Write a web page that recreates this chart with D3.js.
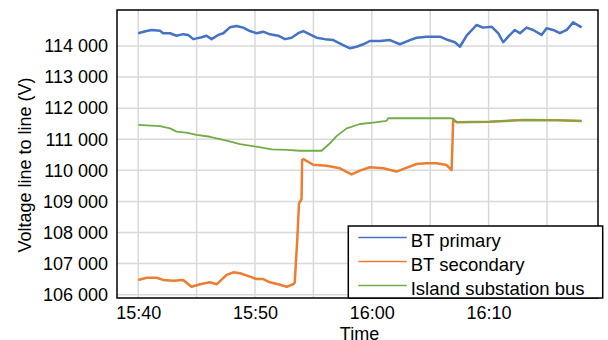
<!DOCTYPE html>
<html>
<head>
<meta charset="utf-8">
<script src="https://cdn.jsdelivr.net/npm/d3@7"></script>
<style>
  html, body { margin: 0; padding: 0; background: #fff; }
  svg { display: block; font-family: "Liberation Sans", Arial, sans-serif; }
</style>
</head>
<body>
<svg id="chart" width="608" height="340"></svg>
<script>
// ---- Data ----
const seriesNames = ["BT primary", "BT secondary", "Island substation bus"];
const seriesColors = ["#4472C4", "#ED7D31", "#70AD47"];

const primaryTimes = ["15:40:00","15:40:43","15:41:09","15:41:52","15:42:08","15:42:43","15:43:17","15:43:51","15:44:17","15:44:43","15:45:26","15:45:51","15:46:17","15:46:51","15:47:17","15:47:51","15:48:25","15:48:59","15:49:34","15:50:08","15:50:42","15:51:17","15:51:59","15:52:34","15:53:08","15:53:42","15:54:08","15:54:42","15:55:16","15:55:59","15:56:42","15:57:33","15:58:08","15:58:42","15:59:16","15:59:50","16:00:41","16:01:33","16:02:24","16:03:16","16:03:50","16:04:41","16:05:50","16:06:32","16:07:07","16:07:33","16:08:07","16:08:58","16:09:32","16:10:15","16:10:49","16:11:15","16:11:41","16:12:15","16:12:41","16:13:15","16:13:49","16:14:32","16:14:58","16:15:32","16:16:06","16:16:41","16:17:14","16:17:58"];
const primaryValues = [114410,114480,114515,114490,114410,114410,114330,114380,114355,114220,114280,114330,114220,114355,114410,114600,114645,114590,114480,114410,114460,114375,114330,114220,114265,114410,114480,114375,114265,114220,114190,114030,113925,113975,114055,114160,114160,114190,114055,114190,114265,114300,114300,114190,114120,113975,114330,114675,114590,114620,114410,114120,114300,114515,114410,114590,114515,114355,114570,114515,114410,114515,114760,114600];

const secondaryTimes = ["15:40:00","15:40:43","15:41:34","15:42:08","15:43:00","15:43:51","15:44:34","15:45:17","15:46:08","15:46:43","15:47:34","15:48:08","15:48:43","15:49:34","15:50:08","15:50:42","15:51:17","15:51:59","15:52:43","15:53:16","15:53:24","15:53:37","15:53:46","15:53:59","15:54:02","15:54:11","15:54:59","15:56:08","15:57:16","15:58:16","15:58:59","15:59:50","16:00:59","16:02:07","16:02:50","16:03:50","16:04:41","16:05:33","16:06:24","16:06:50","16:06:58","16:07:16","16:10:07","16:12:58","16:15:49","16:17:58"];
const secondaryValues = [106475,106545,106545,106475,106450,106475,106255,106335,106400,106335,106635,106720,106690,106580,106505,106505,106400,106335,106255,106335,106390,107760,108940,109070,110335,110355,110180,110150,110065,109870,109990,110100,110065,109960,110065,110205,110225,110225,110170,110010,111620,111545,111565,111620,111610,111590];

const islandTimes = ["15:40:00","15:41:52","15:42:43","15:43:17","15:44:08","15:45:00","15:46:08","15:47:34","15:48:43","15:50:08","15:51:25","15:52:43","15:53:51","15:55:42","15:56:25","15:56:59","15:57:51","15:58:59","16:00:07","16:01:16","16:01:24","16:06:41","16:06:58","16:07:16","16:10:07","16:12:58","16:15:49","16:17:58"];
const islandValues = [111460,111425,111350,111245,111210,111140,111080,110955,110845,110760,110675,110655,110630,110630,110870,111100,111350,111490,111535,111590,111675,111675,111665,111550,111570,111620,111615,111590];

const yTickValues = [106000,107000,108000,109000,110000,111000,112000,113000,114000];
const xTickLabels = ["15:40","15:50","16:00","16:10"];
const xGridTimes = ["15:40","15:45","15:50","15:55","16:00","16:05","16:10","16:15"];

// ---- Layout ----
const svg = d3.select("#chart");
const plot = { left: 117, top: 10, right: 598, bottom: 298 };
const parseT = d3.timeParse("%H:%M:%S");
const parseHM = d3.timeParse("%H:%M");

const x = d3.scaleTime()
  .domain([parseT("15:38:11"), parseT("16:19:22")])
  .range([plot.left, plot.right]);
const y = d3.scaleLinear()
  .domain([105894, 115157])
  .range([plot.bottom, plot.top]);

// gridlines
const gridColor = "#d9d9d9";
svg.append("g")
  .selectAll("line")
  .data(yTickValues)
  .join("line")
  .attr("x1", plot.left).attr("x2", plot.right)
  .attr("y1", d => y(d)).attr("y2", d => y(d))
  .attr("stroke", gridColor).attr("stroke-width", 1.5);
svg.append("g")
  .selectAll("line")
  .data(xGridTimes.map(parseHM))
  .join("line")
  .attr("x1", d => x(d)).attr("x2", d => x(d))
  .attr("y1", plot.top).attr("y2", plot.bottom)
  .attr("stroke", gridColor).attr("stroke-width", 1.5);

// series
const series = [
  { times: primaryTimes, values: primaryValues, width: 2.5 },
  { times: secondaryTimes, values: secondaryValues, width: 2.5 },
  { times: islandTimes, values: islandValues, width: 1.8 }
];
const line = d3.line().x(d => x(d[0])).y(d => y(d[1]));
const seriesG = svg.append("g");
[1, 0, 2].forEach(i => {
  const s = series[i];
  const pts = s.times.map((t, k) => [parseT(t), s.values[k]]);
  seriesG.append("path")
    .datum(pts)
    .attr("fill", "none")
    .attr("stroke", seriesColors[i])
    .attr("stroke-width", s.width)
    .attr("stroke-linejoin", "round")
    .attr("d", line);
});

// plot border
svg.append("rect")
  .attr("x", plot.left).attr("y", plot.top)
  .attr("width", plot.right - plot.left).attr("height", plot.bottom - plot.top)
  .attr("fill", "none").attr("stroke", "#000").attr("stroke-width", 1.5);

// axes
const fmtY = v => d3.format(",")(v).replace(",", " ");
const yAxis = d3.axisLeft(y).tickValues(yTickValues).tickSize(0).tickPadding(9).tickFormat(fmtY);
const gy = svg.append("g").attr("transform", `translate(${plot.left},0)`).call(yAxis);
gy.select(".domain").remove();
gy.selectAll("text").attr("font-size", 18).attr("fill", "#000")
  .attr("font-family", "Liberation Sans, Arial, sans-serif");

const xAxis = d3.axisBottom(x).tickValues(xTickLabels.map(parseHM)).tickSize(0).tickPadding(8)
  .tickFormat(d3.timeFormat("%H:%M"));
const gx = svg.append("g").attr("transform", `translate(0,${plot.bottom})`).call(xAxis);
gx.select(".domain").remove();
gx.selectAll("text").attr("font-size", 18).attr("fill", "#000")
  .attr("font-family", "Liberation Sans, Arial, sans-serif");

// axis titles
svg.append("text")
  .attr("x", (plot.left + plot.right) / 2 + 2).attr("y", 339.5)
  .attr("text-anchor", "middle").attr("font-size", 18).attr("fill", "#000")
  .text("Time");
svg.append("text")
  .attr("transform", "translate(31,165) rotate(-90)")
  .attr("text-anchor", "middle").attr("font-size", 18).attr("fill", "#000")
  .text("Voltage line to line (V)");

// legend
const lg = svg.append("g");
lg.append("rect")
  .attr("x", 348.3).attr("y", 226).attr("width", 254.4).attr("height", 72)
  .attr("fill", "#fff").attr("stroke", "#000").attr("stroke-width", 1.5);
seriesNames.forEach((name, i) => {
  const cy = 237.5 + i * 24;
  lg.append("line")
    .attr("x1", 358.3).attr("x2", 406.7).attr("y1", cy).attr("y2", cy)
    .attr("stroke", seriesColors[i]).attr("stroke-width", 1.7);
  lg.append("text")
    .attr("x", 410.7).attr("y", cy + 9.5)
    .attr("font-size", 18.5).attr("fill", "#000")
    .text(name);
});
</script>
</body>
</html>
